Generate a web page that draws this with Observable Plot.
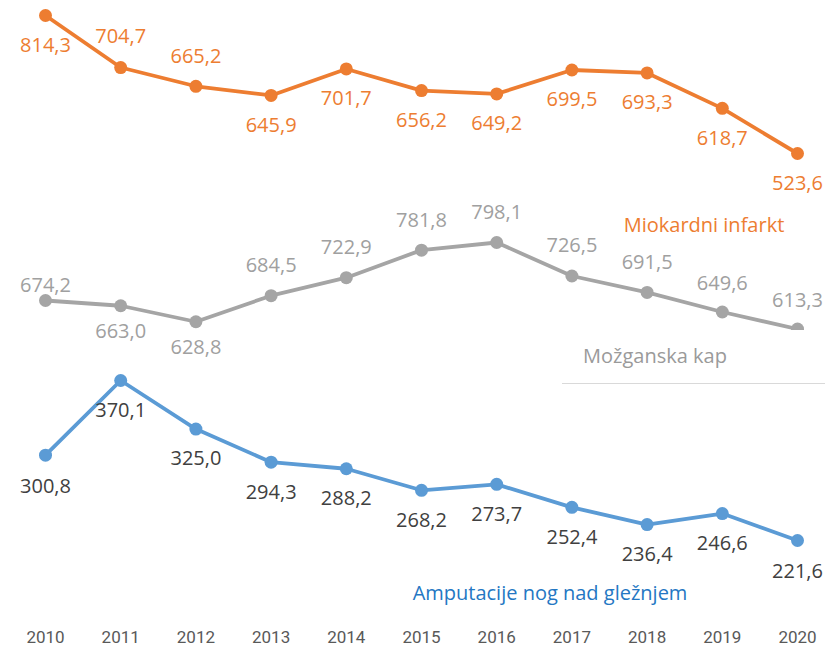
<!DOCTYPE html>
<html>
<head>
<meta charset="utf-8">
<script src="https://cdn.jsdelivr.net/npm/d3@7"></script>
<script src="https://cdn.jsdelivr.net/npm/@observablehq/plot@0.6"></script>
<style>
  html, body { margin: 0; padding: 0; background: #fff; }
  #wrap { position: relative; width: 825px; height: 650px; overflow: hidden; font-family: "Open Sans", "Noto Sans", sans-serif; }
  #wrap svg { position: absolute; left: 0; top: 0; background: transparent; overflow: visible; }
  .lbl { position: absolute; transform: translate(-50%, -50%); white-space: nowrap; font-size: 20px; }
  #sep { position: absolute; left: 562px; top: 383px; width: 263px; border-top: 1.3px solid #d9d9d9; }
</style>
</head>
<body>
<div id="wrap">
  <div id="sep"></div>
  <div class="lbl" style="left:704px;top:224px;color:#ED7D31">Miokardni infarkt</div>
  <div class="lbl" style="left:655px;top:355px;color:#9a9a9a">Možganska kap</div>
  <div class="lbl" style="left:550px;top:592px;color:#2477C3">Amputacije nog nad gležnjem</div>
</div>
<script>
// ---- data ----
const years = [2010, 2011, 2012, 2013, 2014, 2015, 2016, 2017, 2018, 2019, 2020];
const miokardniInfarkt = [814.3, 704.7, 665.2, 645.9, 701.7, 656.2, 649.2, 699.5, 693.3, 618.7, 523.6];
const mozganskaKap = [674.2, 663.0, 628.8, 684.5, 722.9, 781.8, 798.1, 726.5, 691.5, 649.6, 613.3];
const amputacije = [300.8, 370.1, 325.0, 294.3, 288.2, 268.2, 273.7, 252.4, 236.4, 246.6, 221.6];

// ---- layout config ----
const orangeDy = [30, -31, -30, 30, 30, 30, 30, 30, 30, 30, 30];
const greyDy   = [-15, 26, 26, -30, -30, -30, -30, -30, -30, -28, -28];
const blueDy   = [31, 30, 30, 30, 30, 30, 30, 30, 30, 30, 31];

const fmt = v => v.toFixed(1).replace(".", ",");
const rows = arr => years.map((year, i) => ({year, value: arr[i], i}));
const xScale = {domain: [2010, 2020], range: [45, 797], axis: null};
const numFont = {fontSize: 20, fontFamily: "Open Sans, Noto Sans, sans-serif"};

function labelMarks(data, dyArr, fill) {
  const groups = d3.group(data, d => dyArr[d.i]);
  return [...groups].map(([dy, ds]) =>
    Plot.text(ds, {x: "year", y: "value", text: d => fmt(d.value), dy, fill, lineAnchor: "middle", ...numFont}));
}

function seriesMarks(data, color, clip) {
  return [
    Plot.line(data, {x: "year", y: "value", stroke: color, strokeWidth: 3.8, clip}),
    Plot.dot(data, {x: "year", y: "value", fill: color, r: 6.5, clip})
  ];
}

const wrap = document.getElementById("wrap");

// blue panel with x axis labels
const blue = rows(amputacije);
wrap.appendChild(Plot.plot({
  width: 825, height: 650,
  marginTop: 0, marginLeft: 0, marginRight: 0, marginBottom: 13,
  x: xScale,
  y: {domain: [221.6, 370.1], range: [540, 380], axis: null},
  marks: [
    Plot.text(years, {x: d => d, text: d => String(d), frameAnchor: "bottom", lineAnchor: "middle",
      fontSize: 17, fill: "#595959", fontFamily: "Roboto, sans-serif"}),
    ...seriesMarks(blue, "#5B9BD5", false),
    ...labelMarks(blue, blueDy, "#404040")
  ]
}));

// grey panel (clipped at the bottom)
const grey = rows(mozganskaKap);
wrap.appendChild(Plot.plot({
  width: 825, height: 330,
  marginTop: 0, marginLeft: 0, marginRight: 0, marginBottom: 0,
  x: xScale,
  y: {domain: [613.3, 798.1], range: [328.5, 242], axis: null},
  marks: [
    ...seriesMarks(grey, "#A5A5A5", true),
    ...labelMarks(grey, greyDy, "#A0A0A0")
  ]
}));

// orange panel
const orange = rows(miokardniInfarkt);
wrap.appendChild(Plot.plot({
  width: 825, height: 200,
  marginTop: 0, marginLeft: 0, marginRight: 0, marginBottom: 0,
  x: xScale,
  y: {domain: [523.6, 814.3], range: [153, 15], axis: null},
  marks: [
    ...seriesMarks(orange, "#ED7D31", false),
    ...labelMarks(orange, orangeDy, "#ED7D31")
  ]
}));
</script>
</body>
</html>
